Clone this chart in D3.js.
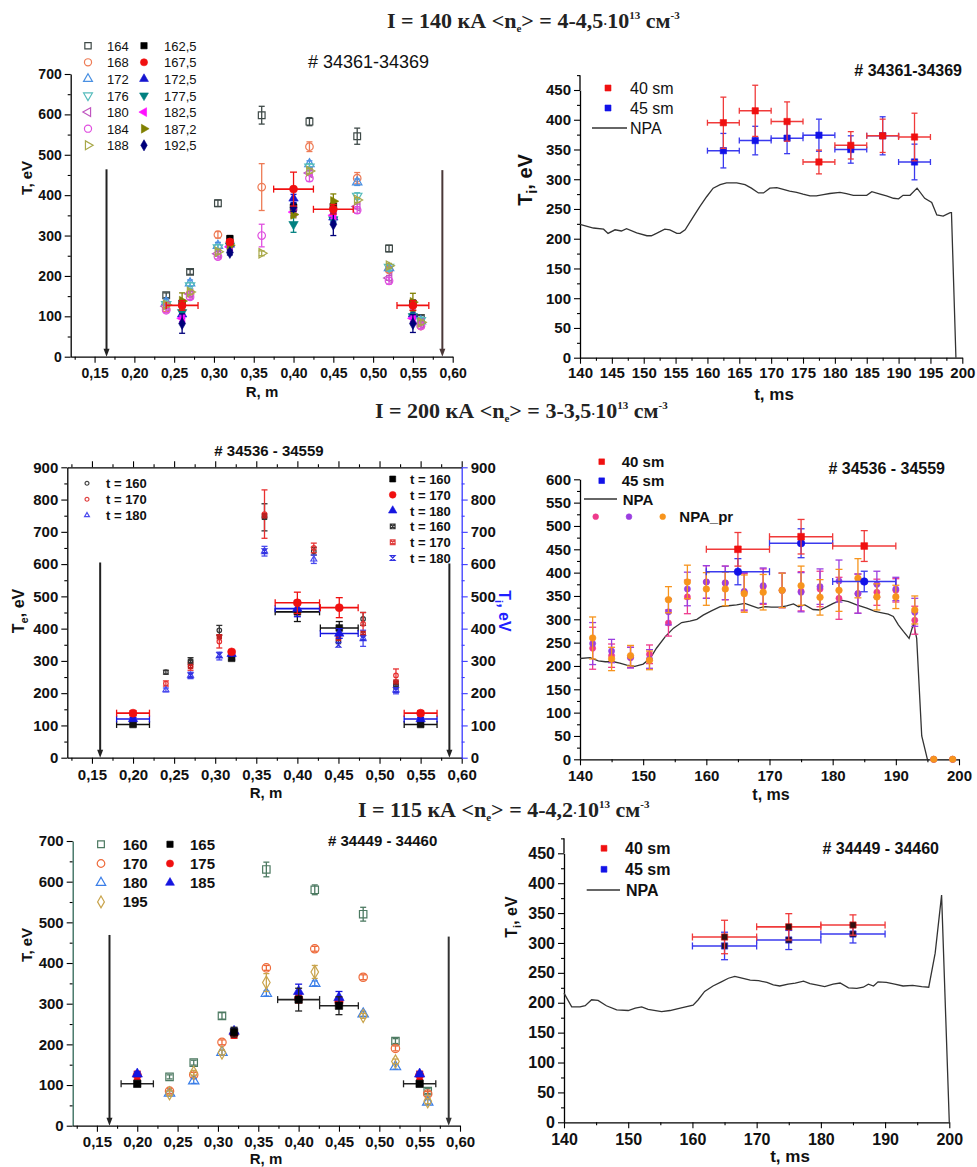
<!DOCTYPE html>
<html>
<head>
<meta charset="utf-8">
<script src="https://cdn.jsdelivr.net/npm/d3@7"></script>
<style>body{margin:0;background:#fff}</style>
</head>
<body>
<script>
// ================= DATA =================
// --- Panel A: T_e profiles, I = 140 kA, shots 34361-34369 ---
const aRThomson = [0.24, 0.27, 0.305, 0.36, 0.42, 0.48, 0.52, 0.56];
const te164 = [152, 210, 380, 598, 582, 546, 268, 96];
const te164Err = [6, 6, 8, 22, 10, 20, 8, 6];
const te168 = [118, 156, 302, 420, 520, 442, 215, 76];
const te168Err = [6, 6, 8, 58, 12, 14, 6, 6];
const te172 = [135, 182, 275, null, 477, 432, 220, 88];
const te176 = [130, 176, 270, null, 470, 398, 222, 90];
const te180 = [125, 155, 255, null, 455, 372, 195, 82];
const te184 = [115, 148, 248, 300, 442, 363, 188, 76];
const te184Err = [6, 6, 6, 28, 8, 8, 8, 6];
const te188 = [128, 160, 260, 256, 460, 388, 225, 85];

const aRProbe = [0.26, 0.32, 0.40, 0.45, 0.55];
const te162_5 = [132, 292, 370, 372, 132];
const te167_5 = [127, 284, 415, 365, 127];
const te167_5Err = [12, 6, 42, 12, 12];
const te167_5XErr = [0.02, 0, 0.025, 0.025, 0.02];
const te172_5 = [105, 278, 392, 345, 105];
const te177_5 = [110, 275, 328, 340, 100];
const te177_5Err = [8, 6, 20, 8, 8];
const te182_5 = [95, 272, 358, 350, 95];
const te187_2 = [138, 276, 352, 385, 135];
const te187_2Err = [20, 6, 8, 18, 22];
const te192_5 = [82, 258, 370, 328, 82];
const te192_5Err = [24, 6, 10, 28, 22];

// --- Panel B: T_i(t), I = 140 kA ---
const bT = [162.5, 167.5, 172.5, 177.5, 182.5, 187.5, 192.5];
const bTi40 = [395, 415, 397, 329, 357, 373, 371];
const bTi40Err = [43, 43, 33, 20, 23, 28, 40];
const bTi45 = [348, 365, 369, 374, 350, 373, 329];
const bTi45Err = [29, 24, 26, 27, 23, 32, 30];
const bNpaT = [140, 142.1, 143.7, 144.4, 145.5, 146.5, 147.3, 148.9, 150.5, 151.2, 152, 153.3, 154.1, 155.2, 155.7, 156.5, 157.8, 158.8, 159.9, 160.9, 162, 163, 164.6, 165.9, 166.9, 168, 168.8, 169.8, 170.9, 171.9, 172.9, 174, 175, 176.1, 177.1, 178.2, 179.2, 180.8, 181.8, 182.9, 183.9, 185, 185.8, 187.1, 188.1, 189.2, 190, 190.7, 191.8, 192.9, 194.1, 195.2, 196, 197, 198.1, 198.3, 199];
const bNpaV = [224, 218, 216, 209, 215, 213, 217, 210, 205, 205, 209, 216, 215, 209, 209, 215, 237, 254, 271, 285, 291, 294, 294, 291, 285, 277, 277, 285, 286, 283, 280, 278, 275, 272, 272, 274, 276, 278, 276, 273, 273, 273, 279, 275, 272, 268, 267, 273, 273, 285, 268, 261, 240, 238, 244, 244, 0];

// --- Panel C: T_e profiles, I = 200 kA, shots 34536-34559 ---
const cRThomson = [0.24, 0.27, 0.305, 0.36, 0.42, 0.48, 0.52];
const ts160 = [265, 300, 395, 745, 640, 430, 225];
const ts160Err = [6, 10, 15, 42, 12, 20, 12];
const ts170 = [230, 283, 360, 755, 650, 415, 255];
const ts170Err = [8, 12, 20, 75, 15, 35, 20];
const ts180 = [210, 255, 315, 640, 615, 370, 210];
const ts180Err = [6, 10, 12, 15, 13, 25, 12];
const cRCross = [0.27, 0.305, 0.36, 0.45, 0.48, 0.52];
const tx160 = [298, null, 745, 360, null, 225];
const tx170 = [283, 375, 750, 370, 385, 235];
const tx180 = [255, 318, 640, 350, 370, 210];
const cRProbe = [0.20, 0.32, 0.40, 0.451, 0.55];
const tp160 = [103, 308, 452, 402, 103];
const tp160Err = [5, 5, 30, 20, 5];
const tp170 = [138, 328, 480, 465, 138];
const tp170Err = [8, 5, 33, 31, 8];
const tp180 = [120, 322, 462, 385, 120];
const tp180Err = [5, 5, 25, 15, 5];
const cProbeXErr = [0.02, 0, 0.027, 0.023, 0.02];

// --- Panel D: T_i(t), I = 200 kA ---
const dT = [165, 175, 185];
const dTi40 = [450, 477, 457];
const dTi40Err = [36, 37, 33];
const dTi45 = [402, 463, 381];
const dTi45Err = [28, 31, 22];
const dPrT = [142, 145, 148, 151, 154, 157, 160, 163, 166, 169, 172, 175, 178, 181, 184, 187, 190, 193, 196, 199];
const dPrPink = [238, 222, 218, 225, 292, 348, 380, 378, 358, 370, 362, 360, 365, 345, 355, 358, 362, 298, 0, 0];
const dPrPurple = [248, 232, 218, 215, 316, 365, 380, 378, 360, 372, 362, 358, 370, 382, 355, 375, 365, 315, 0, 0];
const dPrOrange = [260, 215, 222, 212, 342, 380, 365, 365, 355, 358, 362, 372, 347, 362, 388, 348, 348, 320, 0, 0];
const dPrErr = [45, 25, 22, 20, 28, 36, 35, 36, 40, 38, 37, 42, 38, 45, 42, 28, 25, 30, 0, 0];
const dNpaT = [140, 141.6, 142.9, 144, 145.3, 146.3, 147.4, 148.7, 150, 151.1, 152.1, 153.5, 154.8, 156.1, 157.4, 158.5, 159.5, 160.8, 162.2, 163.5, 164.8, 166.1, 167.2, 168.2, 169.3, 170.3, 171.7, 172.7, 173.8, 174.6, 175.6, 176.9, 178, 179.1, 180.1, 181.4, 182.5, 183.8, 185.4, 186.7, 187.8, 188.8, 189.6, 190.4, 191.2, 192.1, 192.8, 193.3, 194.1, 195];
const dNpaV = [216, 218, 211, 209, 209, 206, 202, 199, 204, 216, 238, 263, 281, 293, 296, 300, 309, 318, 327, 329, 331, 334, 329, 324, 327, 326, 326, 329, 333, 327, 331, 321, 320, 327, 334, 341, 338, 331, 324, 317, 314, 311, 306, 288, 274, 259, 291, 259, 50, 0];

// --- Panel E: T_e profiles, I = 115 kA, shots 34449-34460 ---
const eRThomson = [0.24, 0.27, 0.305, 0.36, 0.42, 0.48, 0.52, 0.56];
const eTe160 = [120, 155, 270, 630, 580, 520, 208, 85];
const eTe160Err = [5, 6, 8, 18, 12, 17, 6, 6];
const eTe170 = [85, 125, 205, 388, 435, 365, 190, 78];
const eTe180 = [80, 110, 180, 325, 350, 275, 145, 58];
const eTe195 = [80, 130, 180, 352, 378, 270, 158, 60];
const eTe195Err = [6, 6, 6, 22, 16, 6, 6, 6];
const eRProbe = [0.20, 0.32, 0.40, 0.45, 0.55];
const eTe165 = [103, 230, 310, 295, 103];
const eTe165Err = [0, 12, 28, 22, 0];
const eTe165XErr = [0.02, 0, 0.026, 0.024, 0.02];
const eTe175 = [124, 225, 312, 305, 124];
const eTe185 = [127, 232, 330, 315, 127];
const eTe185Err = [5, 8, 18, 15, 5];

// --- Panel F: T_i(t), I = 115 kA ---
const fT = [165, 175, 185];
const fTi40 = [310, 327, 330];
const fTi40Err = [28, 22, 17];
const fTi45 = [295, 305, 315];
const fTi45Err = [23, 16, 15];
const fNpaT = [140, 141.2, 142.5, 143.3, 144.3, 145.3, 146.6, 148.2, 150, 151.1, 152.1, 153.1, 155.2, 156.5, 158.1, 160.1, 160.9, 161.9, 163.2, 164.5, 165.6, 166.6, 167.4, 169, 170.3, 171.6, 172.6, 173.6, 174.9, 176, 177.3, 178.3, 179.3, 180.6, 181.9, 183, 184.3, 185.6, 186.6, 187.4, 188.2, 188.9, 190.2, 191.5, 192.8, 194.3, 195.7, 196.8, 197.8, 198.8, 200];
const fNpaV = [216, 193, 193, 195, 205, 204, 195, 188, 187, 191, 193, 189, 185, 187, 191, 196, 205, 219, 228, 235, 241, 244, 242, 238, 237, 234, 230, 228, 231, 233, 236, 232, 230, 227, 231, 233, 225, 224, 226, 231, 228, 235, 234, 231, 228, 229, 227, 226, 283, 380, 0];

// Axis tick values
const rMajor = [0.15, 0.20, 0.25, 0.30, 0.35, 0.40, 0.45, 0.50, 0.55, 0.60];
const rMinor = [0.125, 0.175, 0.225, 0.275, 0.325, 0.375, 0.425, 0.475, 0.525, 0.575];

// ================= DRAWING =================
const svg = d3.select('body').append('svg')
  .attr('width', 977).attr('height', 1167)
  .style('font-family', '"Liberation Sans", Arial, sans-serif');

const rFmt = d => d3.format('.2f')(d).replace('.', ',');
const range = (a, b, s) => d3.range(a, b + s / 2, s);

function addAxis(scale, orient, tr, majors, minors, o = {}) {
  const gen = {left: d3.axisLeft, right: d3.axisRight, bottom: d3.axisBottom, top: d3.axisTop}[orient];
  const color = o.color || '#000';
  const gMin = svg.append('g').attr('transform', tr)
    .call(gen(scale).tickValues(minors).tickSize(o.minor || 3).tickSizeOuter(0).tickFormat(''));
  gMin.select('.domain').remove();
  const g = svg.append('g').attr('transform', tr)
    .call(gen(scale).tickValues(majors).tickSize(o.major || 6).tickSizeOuter(0)
      .tickPadding(o.pad || 3).tickFormat(o.noLabels ? '' : (o.fmt || d3.format('d'))));
  [gMin, g].forEach(s => {
    s.selectAll('line').attr('stroke', color).attr('stroke-width', 1.1);
    s.selectAll('.domain').attr('stroke', o.lineColor || color).attr('stroke-width', 1.3);
    s.selectAll('text').attr('font-family', '"Liberation Sans", Arial, sans-serif')
      .attr('font-weight', 'bold').attr('font-size', o.fs || 15).attr('fill', '#111');
  });
  return g;
}

function shapePath(shape, size) {
  const s = Math.sqrt(size) / 2;
  switch (shape) {
    case 'xsquare':
      return `M${-s},${-s}H${s}V${s}H${-s}Z M${-s},${-s}L${s},${s} M${s},${-s}L${-s},${s}`;
    case 'hourglass':
      return `M${-s},${-s}H${s}L${-s},${s}H${s}Z`;
    case 'circle': return d3.symbol(d3.symbolCircle, size)();
    case 'diamond': return d3.symbol(d3.symbolDiamond, size * 0.9)();
    case 'square': return d3.symbol(d3.symbolSquare, size)();
    default: return d3.symbol(d3.symbolTriangle, size * 0.85)();
  }
}
const shapeRot = {triDown: 180, triLeft: -90, triRight: 90};

function marker(cx, cy, shape, size, color, open, fill) {
  svg.append('path').attr('d', shapePath(shape, size))
    .attr('transform', `translate(${cx},${cy}) rotate(${shapeRot[shape] || 0})`)
    .attr('fill', open ? 'none' : (fill || color))
    .attr('stroke', color).attr('stroke-width', open ? 1.2 : 0.6);
}

function errBar(x, y, xv, yv, ey, ex, color, cap) {
  const g = svg.append('g').attr('stroke', color).attr('stroke-width', 1.3);
  if (ey) {
    const X = x(xv), y0 = y(yv - ey), y1 = y(yv + ey);
    g.append('line').attr('x1', X).attr('x2', X).attr('y1', y0).attr('y2', y1);
    g.append('line').attr('x1', X - cap).attr('x2', X + cap).attr('y1', y0).attr('y2', y0);
    g.append('line').attr('x1', X - cap).attr('x2', X + cap).attr('y1', y1).attr('y2', y1);
  }
  if (ex) {
    const Y = y(yv), x0 = x(xv - ex), x1 = x(xv + ex);
    g.append('line').attr('x1', x0).attr('x2', x1).attr('y1', Y).attr('y2', Y).attr('stroke-width', 1.6);
    g.append('line').attr('x1', x0).attr('x2', x0).attr('y1', Y - cap).attr('y2', Y + cap);
    g.append('line').attr('x1', x1).attr('x2', x1).attr('y1', Y - cap).attr('y2', Y + cap);
  }
}

const pick = (v, i) => Array.isArray(v) ? v[i] : v;

function series(x, y, s) {
  s.xs.forEach((xv, i) => {
    const yv = s.ys[i];
    if (yv == null) return;
    errBar(x, y, xv, yv, pick(s.ey || 0, i), pick(s.ex || 0, i), s.errColor || s.color, s.cap || 3);
  });
  s.xs.forEach((xv, i) => {
    const yv = s.ys[i];
    if (yv == null) return;
    marker(x(xv), y(yv), s.shape, s.size, s.color, s.open, s.fill);
  });
}

function arrow(x, y, xv, yTop, color) {
  const X = x(xv), Y = y(0);
  svg.append('line').attr('x1', X).attr('x2', X).attr('y1', y(yTop)).attr('y2', Y - 6)
    .attr('stroke', color).attr('stroke-width', 2);
  svg.append('path').attr('d', `M${X - 3},${Y - 8}L${X + 3},${Y - 8}L${X},${Y}Z`).attr('fill', color);
}

function text(x, y, str, o = {}) {
  return svg.append('text').attr('x', x).attr('y', y).text(str)
    .attr('font-size', o.fs || 14).attr('font-weight', o.bold ? 'bold' : 'normal')
    .attr('text-anchor', o.anchor || 'start').attr('fill', o.color || '#111');
}

function yLabel(cx, cy, main, sub, rest, fs, rot = -90, color = '#111') {
  const t = svg.append('text').attr('transform', `translate(${cx},${cy}) rotate(${rot})`)
    .attr('text-anchor', 'middle').attr('font-weight', 'bold').attr('font-size', fs)
    .attr('fill', color).attr('dy', '0.35em');
  t.append('tspan').text(main);
  if (sub) t.append('tspan').attr('font-size', fs * 0.7).attr('dy', fs * 0.25).text(sub);
  t.append('tspan').attr('dy', sub ? -fs * 0.25 : 0).text(rest);
}

function title(x, yb, cur, ne) {
  const t = svg.append('text').attr('x', x).attr('y', yb)
    .attr('font-family', '"Liberation Serif", "Times New Roman", serif')
    .attr('font-weight', 'bold').attr('font-size', 22).attr('fill', '#222');
  t.append('tspan').text(`I = ${cur} кА <n`);
  t.append('tspan').attr('font-size', 11).attr('dy', 4).text('e');
  t.append('tspan').attr('dy', -4).text(`> = ${ne}`);
  t.append('tspan').attr('font-size', 12).text('·');
  t.append('tspan').text('10');
  t.append('tspan').attr('font-size', 11).attr('dy', -9).text('13');
  t.append('tspan').attr('dy', 9).text(' см');
  t.append('tspan').attr('font-size', 11).attr('dy', -9).text('-3');
}

// ---------- Titles ----------
title(387, 28, '140', '4-4,5');
title(375, 418, '200', '3-3,5');
title(358, 817, '115', '4-4,2');

// ---------- Panel A ----------
{
  const x = d3.scaleLinear().domain([0.12, 0.60]).range([70.7, 452.7]);
  const y = d3.scaleLinear().domain([0, 700]).range([356.7, 74]);
  addAxis(y, 'left', 'translate(70.7,0)', range(0, 700, 100), range(50, 650, 100), {fs: 14});
  addAxis(x, 'bottom', 'translate(0,356.7)', rMajor, rMinor, {fs: 14, fmt: rFmt, pad: 5});
  yLabel(27, 178, 'T, eV', '', '', 15);
  text(262, 397, 'R, m', {bold: true, fs: 15, anchor: 'middle'});
  text(308, 68, '# 34361-34369', {fs: 18});

  arrow(x, y, 0.165, 464, '#222');
  arrow(x, y, 0.587, 462, '#4a3838');

  const open = [
    {ys: te164, ey: te164Err, shape: 'square', color: '#3f4a48', lbl: '164'},
    {ys: te168, ey: te168Err, shape: 'circle', color: '#ee7b55', lbl: '168'},
    {ys: te172, ey: 8, shape: 'tri', color: '#4a90e2', lbl: '172'},
    {ys: te176, ey: 8, shape: 'triDown', color: '#55bcbc', lbl: '176'},
    {ys: te180, ey: 6, shape: 'triLeft', color: '#c055c0', lbl: '180'},
    {ys: te184, ey: te184Err, shape: 'circle', color: '#e050e0', lbl: '184'},
    {ys: te188, ey: 6, shape: 'triRight', color: '#a8a848', lbl: '188'}
  ];
  const filled = [
    {ys: te162_5, ey: 8, shape: 'square', color: '#000', lbl: '162,5'},
    {ys: te167_5, ey: te167_5Err, ex: te167_5XErr, shape: 'circle', color: '#f01010', lbl: '167,5', top: true},
    {ys: te172_5, ey: 10, shape: 'tri', color: '#1515d0', lbl: '172,5'},
    {ys: te177_5, ey: te177_5Err, shape: 'triDown', color: '#008080', lbl: '177,5'},
    {ys: te182_5, ey: 8, shape: 'triLeft', color: '#ff10ff', lbl: '182,5'},
    {ys: te187_2, ey: te187_2Err, shape: 'triRight', color: '#808000', lbl: '187,2'},
    {ys: te192_5, ey: te192_5Err, shape: 'diamond', color: '#00007a', lbl: '192,5'}
  ];
  open.forEach(s => series(x, y, {...s, xs: aRThomson, size: 45, open: true}));
  filled.filter(s => !s.top).forEach(s => series(x, y, {...s, xs: aRProbe, size: 45}));
  filled.filter(s => s.top).forEach(s => series(x, y, {...s, xs: aRProbe, size: 50, cap: 3.5}));

  open.forEach((s, i) => {
    const cy = 45.7 + i * 16.6;
    marker(88, cy, s.shape, 40, s.color, true);
    text(107, cy + 5, s.lbl, {fs: 13});
  });
  filled.forEach((s, i) => {
    const cy = 45.7 + i * 16.6;
    marker(144, cy, s.shape, 40, s.color, false);
    text(164, cy + 5, s.lbl, {fs: 13});
  });
}

// ---------- Panel B ----------
{
  const x = d3.scaleLinear().domain([140, 200]).range([580, 962.3]);
  const y = d3.scaleLinear().domain([0, 450]).range([357.7, 90]);
  addAxis(y, 'left', 'translate(580,0)', range(0, 450, 50), range(25, 475, 50), {fs: 15});
  svg.append('line').attr('x1', 580).attr('x2', 580).attr('y1', y(450)).attr('y2', y(475))
    .attr('stroke', '#000').attr('stroke-width', 1.3);
  addAxis(x, 'bottom', 'translate(0,357.7)', range(140, 200, 5), range(142.5, 197.5, 5), {fs: 15, pad: 4});
  yLabel(525, 180, 'T', 'i', ', eV', 20);
  text(774, 400, 't, ms', {bold: true, fs: 17, anchor: 'middle'});
  text(962, 76, '# 34361-34369', {bold: true, fs: 16, anchor: 'end'});

  const line = d3.line().x((d, i) => x(bNpaT[i])).y(d => y(d));
  svg.append('path').attr('d', line(bNpaV)).attr('fill', 'none').attr('stroke', '#333').attr('stroke-width', 1.3);

  series(x, y, {xs: bT, ys: bTi45, ey: bTi45Err, ex: 2.5, shape: 'square', size: 40, color: '#1212e8', errColor: '#3a3aee'});
  series(x, y, {xs: bT, ys: bTi40, ey: bTi40Err, ex: 2.5, shape: 'square', size: 40, color: '#f01010', errColor: '#f03a3a'});

  marker(608, 88, 'square', 36, '#f01010', false);
  text(630, 94, '40 sm', {fs: 16});
  marker(608, 108, 'square', 36, '#1212e8', false);
  text(630, 114, '45 sm', {fs: 16});
  svg.append('line').attr('x1', 592).attr('x2', 627).attr('y1', 128).attr('y2', 128).attr('stroke', '#333').attr('stroke-width', 1.3);
  text(630, 134, 'NPA', {fs: 16});
}

// ---------- Panel C ----------
{
  const x = d3.scaleLinear().domain([0.12, 0.60]).range([67.3, 461.7]);
  const y = d3.scaleLinear().domain([0, 900]).range([757.7, 467.3]);
  addAxis(y, 'left', 'translate(67.3,0)', range(0, 900, 100), range(50, 850, 100), {fs: 15});
  addAxis(x, 'bottom', 'translate(0,757.7)', rMajor, rMinor, {fs: 15, fmt: rFmt, pad: 6});
  addAxis(x, 'top', 'translate(0,467.3)', rMajor, rMinor, {noLabels: true});
  addAxis(y, 'right', 'translate(461.7,0)', range(0, 900, 100), range(50, 850, 100),
    {fs: 15, color: '#3a3aff', lineColor: '#3a3aff'});
  yLabel(18, 611, 'T', 'e', ', eV', 16);
  yLabel(505, 611, 'T', 'i', ', eV', 16, 90, '#2020ff');
  text(266, 798, 'R, m', {bold: true, fs: 15, anchor: 'middle'});
  text(269, 456, '# 34536 - 34559', {bold: true, fs: 15, anchor: 'middle'});

  arrow(x, y, 0.16, 605, '#222');
  arrow(x, y, 0.585, 602, '#222');

  series(x, y, {xs: cRThomson, ys: ts160, ey: ts160Err, shape: 'circle', size: 16, color: '#333', open: true});
  series(x, y, {xs: cRThomson, ys: ts170, ey: ts170Err, shape: 'circle', size: 16, color: '#e83030', open: true});
  series(x, y, {xs: cRThomson, ys: ts180, ey: ts180Err, shape: 'tri', size: 18, color: '#4a4aee', open: true});
  series(x, y, {xs: cRCross, ys: tx160, shape: 'xsquare', size: 18, color: '#333', open: true});
  series(x, y, {xs: cRCross, ys: tx170, shape: 'xsquare', size: 18, color: '#c02020', open: true});
  series(x, y, {xs: cRCross, ys: tx180, shape: 'hourglass', size: 22, color: '#3030e0', open: true});

  series(x, y, {xs: cRProbe, ys: tp160, ey: tp160Err, ex: cProbeXErr, shape: 'square', size: 45, color: '#111', cap: 3.5});
  series(x, y, {xs: cRProbe, ys: tp180, ey: tp180Err, ex: cProbeXErr, shape: 'tri', size: 45, color: '#1515e0', cap: 3.5});
  series(x, y, {xs: cRProbe, ys: tp170, ey: tp170Err, ex: cProbeXErr, shape: 'circle', size: 50, color: '#f01010', cap: 3.5});

  const left = [['circle', '#444'], ['circle', '#e04040'], ['tri', '#4a4aee']];
  ['t = 160', 't = 170', 't = 180'].forEach((l, i) => {
    const cy = 483.3 + i * 16;
    marker(87, cy, left[i][0], 12, left[i][1], true);
    text(106, cy + 5, l, {bold: true, fs: 13});
  });
  const right = [['square', '#000', false], ['circle', '#f01010', false], ['tri', '#1515e0', false],
                 ['xsquare', '#333', true], ['xsquare', '#e04040', true], ['hourglass', '#3030e0', true]];
  ['t = 160', 't = 170', 't = 180', 't = 160', 't = 170', 't = 180'].forEach((l, i) => {
    const cy = 479 + i * 15.8;
    marker(392.7, cy, right[i][0], right[i][2] ? 22 : 36, right[i][1], right[i][2]);
    text(410, cy + 5, l, {bold: true, fs: 13});
  });
}

// ---------- Panel D ----------
{
  const x = d3.scaleLinear().domain([140, 200]).range([580, 959]);
  const y = d3.scaleLinear().domain([0, 600]).range([759.3, 479.3]);
  addAxis(y, 'left', 'translate(580,0)', range(0, 600, 50), range(25, 575, 50), {fs: 15});
  addAxis(x, 'bottom', 'translate(0,759.3)', range(140, 200, 10), range(145, 195, 10), {fs: 15, pad: 5});
  text(771, 800, 't, ms', {bold: true, fs: 16, anchor: 'middle'});
  text(945, 474, '# 34536 - 34559', {bold: true, fs: 16, anchor: 'end'});

  const line = d3.line().x((d, i) => x(dNpaT[i])).y(d => y(d));
  svg.append('path').attr('d', line(dNpaV)).attr('fill', 'none').attr('stroke', '#333').attr('stroke-width', 1.3);

  const cPink = '#ee3a8c', cPurple = '#9b3ee0', cOrange = '#f7941d';
  series(x, y, {xs: dPrT, ys: dPrPink, ey: dPrErr, shape: 'circle', size: 30, color: cPink, cap: 3.5});
  series(x, y, {xs: dPrT, ys: dPrPurple, ey: dPrErr, shape: 'circle', size: 30, color: cPurple, cap: 3.5});
  series(x, y, {xs: dPrT, ys: dPrOrange, ey: dPrErr, shape: 'circle', size: 34, color: cOrange, cap: 3.5});

  series(x, y, {xs: dT, ys: dTi45, ey: dTi45Err, ex: 5, shape: 'circle', size: 45, color: '#1212e8', errColor: '#3a3aee', cap: 3.5});
  series(x, y, {xs: dT, ys: dTi40, ey: dTi40Err, ex: 5, shape: 'square', size: 45, color: '#f01010', errColor: '#f03a3a', cap: 3.5});

  marker(601.7, 461.7, 'square', 32, '#f01010', false);
  text(621.7, 467, '40 sm', {bold: true, fs: 15});
  marker(601.7, 480.7, 'square', 32, '#1212e8', false);
  text(621.7, 486, '45 sm', {bold: true, fs: 15});
  svg.append('line').attr('x1', 584).attr('x2', 617).attr('y1', 499).attr('y2', 499).attr('stroke', '#333').attr('stroke-width', 1.3);
  text(622.7, 505, 'NPA', {bold: true, fs: 15});
  marker(595.7, 516.7, 'circle', 26, cPink, false);
  marker(629, 516.7, 'circle', 26, cPurple, false);
  marker(662.7, 516.7, 'circle', 26, cOrange, false);
  text(679.3, 522, 'NPA_pr', {bold: true, fs: 15});
}

// ---------- Panel E ----------
{
  const x = d3.scaleLinear().domain([0.12, 0.60]).range([72.7, 460]);
  const y = d3.scaleLinear().domain([0, 700]).range([1125.7, 841]);
  addAxis(y, 'left', 'translate(72.7,0)', range(0, 700, 100), range(50, 650, 100), {fs: 15, lineColor: '#2f6656'});
  addAxis(x, 'bottom', 'translate(0,1125.7)', rMajor, rMinor, {fs: 15, fmt: rFmt, pad: 5});
  yLabel(27, 945, 'T, eV', '', '', 15);
  text(266, 1164, 'R, m', {bold: true, fs: 15, anchor: 'middle'});
  text(328, 846, '# 34449 - 34460', {bold: true, fs: 15});

  arrow(x, y, 0.1656, 469, '#222');
  arrow(x, y, 0.586, 465, '#333');

  const open = [
    {ys: eTe160, ey: eTe160Err, shape: 'square', color: '#4d7a62', lbl: '160'},
    {ys: eTe170, ey: 6, shape: 'circle', color: '#ee6a3a', lbl: '170'},
    {ys: eTe180, ey: 6, shape: 'tri', color: '#3a7ee8', lbl: '180'},
    {ys: eTe195, ey: eTe195Err, shape: 'diamond', color: '#c9a44c', lbl: '195'}
  ];
  const filled = [
    {ys: eTe165, ey: eTe165Err, ex: eTe165XErr, shape: 'square', color: '#000', lbl: '165'},
    {ys: eTe175, ey: 10, shape: 'circle', color: '#f01010', lbl: '175'},
    {ys: eTe185, ey: eTe185Err, shape: 'tri', color: '#1515e0', lbl: '185'}
  ];
  open.forEach(s => series(x, y, {...s, xs: eRThomson, size: 55, open: true}));
  [filled[1], filled[2], filled[0]].forEach(s => series(x, y, {...s, xs: eRProbe, size: 55, cap: 3.5, errColor: s.color === '#000' ? '#222' : s.color}));

  open.forEach((s, i) => {
    const cy = 844.3 + i * 19.2;
    marker(101, cy, s.shape, 45, s.color, true);
    text(122.7, cy + 5.5, s.lbl, {bold: true, fs: 15});
  });
  filled.forEach((s, i) => {
    const cy = 844.3 + i * 19.2;
    marker(170, cy, s.shape, 40, s.color, false);
    text(190, cy + 5.5, s.lbl, {bold: true, fs: 15});
  });
}

// ---------- Panel F ----------
{
  const x = d3.scaleLinear().domain([140, 200]).range([564, 949.3]);
  const y = d3.scaleLinear().domain([0, 450]).range([1122.3, 853.3]);
  addAxis(y, 'left', 'translate(564,0)', range(0, 450, 50), range(25, 475, 50), {fs: 16});
  svg.append('line').attr('x1', 564).attr('x2', 564).attr('y1', y(450)).attr('y2', y(475))
    .attr('stroke', '#000').attr('stroke-width', 1.3);
  addAxis(x, 'bottom', 'translate(0,1122.3)', range(140, 200, 10), range(145, 195, 10), {fs: 16, pad: 5});
  yLabel(511.7, 917, 'T', 'i', ', eV', 16);
  text(790, 1162, 't, ms', {bold: true, fs: 17, anchor: 'middle'});
  text(939, 854, '# 34449 - 34460', {bold: true, fs: 16, anchor: 'end'});

  const line = d3.line().x((d, i) => x(fNpaT[i])).y(d => y(d));
  svg.append('path').attr('d', line(fNpaV)).attr('fill', 'none').attr('stroke', '#333').attr('stroke-width', 1.3);

  series(x, y, {xs: fT, ys: fTi45, ey: fTi45Err, ex: 5, shape: 'square', size: 40, color: '#2a2af0', fill: '#221133', errColor: '#3a3aee', cap: 3.5});
  series(x, y, {xs: fT, ys: fTi40, ey: fTi40Err, ex: 5, shape: 'square', size: 40, color: '#f01010', fill: '#331111', errColor: '#f03a3a', cap: 3.5});

  marker(604, 848.3, 'square', 34, '#f01010', false);
  text(625, 854, '40 sm', {bold: true, fs: 16});
  marker(604, 869.3, 'square', 34, '#1212e8', false);
  text(625, 875, '45 sm', {bold: true, fs: 16});
  svg.append('line').attr('x1', 586.7).attr('x2', 620).attr('y1', 890).attr('y2', 890).attr('stroke', '#333').attr('stroke-width', 1.3);
  text(626, 896, 'NPA', {bold: true, fs: 16});
}
</script>
</body>
</html>
